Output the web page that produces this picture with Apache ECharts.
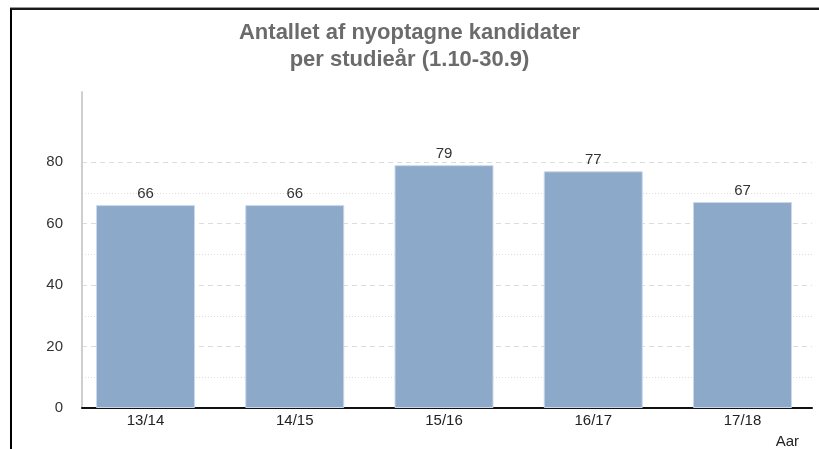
<!DOCTYPE html>
<html>
<head>
<meta charset="utf-8">
<script src="https://cdn.jsdelivr.net/npm/echarts@6/dist/echarts.min.js"></script>
<style>
    html, body { margin: 0; padding: 0; background: #fff; }
    #frame {
        position: absolute; left: 10px; top: 8px; width: 809px; height: 441px;
        border-left: 2px solid #000; border-top: 2px solid #1a1a1a;
        box-shadow: 0 -1px 0 #999;
    }
    #chart { position: absolute; left: 0; top: 0; width: 819px; height: 449px; }
</style>
</head>
<body>
<div id="frame"></div>
<div id="chart"></div>
<script>
var categories = ['13/14', '14/15', '15/16', '16/17', '17/18'];
var values = [66, 66, 79, 77, 67];
var yTicks = [0, 20, 40, 60, 80];

var barData = values.map(function (v, i) { return [i, v]; });
var grey = '#dcdcdc';
var none = 'rgba(0,0,0,0)';

var chart = echarts.init(document.getElementById('chart'));
var option = {
    animation: false,
    title: [
        {
            text: 'Antallet af nyoptagne kandidater\nper studieår (1.10-30.9)',
            left: 'center',
            top: 14,
            textStyle: {
                fontFamily: 'Liberation Sans',
                fontSize: 22,
                fontWeight: 'bold',
                color: '#6b6b6b',
                lineHeight: 27
            }
        },
        {
            text: 'Aar',
            right: 15,
            top: 429,
            textStyle: {
                fontFamily: 'Liberation Sans',
                fontSize: 15,
                fontWeight: 'normal',
                color: '#222'
            }
        }
    ],
    grid: {
        left: 82,
        right: 7,
        top: 92,
        bottom: 41
    },
    xAxis: {
        type: 'value',
        min: -0.4255,
        max: 4.4657,
        axisLine: { show: true, onZero: false, lineStyle: { color: '#111', width: 2 } },
        axisTick: { show: false },
        splitLine: { show: false },
        axisLabel: {
            color: '#222',
            fontFamily: 'Liberation Sans',
            fontSize: 15,
            margin: 5,
            showMinLabel: false,
            showMaxLabel: false,
            formatter: function (v) {
                return Number.isInteger(v) && categories[v] ? categories[v] : '';
            }
        }
    },
    yAxis: [
        {
            type: 'value',
            min: 0,
            max: 102.8,
            interval: 20,
            axisLine: { show: true, onZero: false, lineStyle: { color: '#cfcfcf', width: 2 } },
            axisTick: { show: false },
            axisLabel: {
                color: '#333',
                fontFamily: 'Liberation Sans',
                fontSize: 15,
                margin: 19,
                formatter: function (v) {
                    return yTicks.indexOf(v) >= 0 ? String(v) : '';
                }
            },
            splitLine: {
                show: true,
                showMaxLine: false,
                lineStyle: {
                    type: [5, 4],
                    color: [none, grey, grey, grey, grey, none, none]
                }
            }
        },
        {
            type: 'value',
            min: 0,
            max: 102.8,
            interval: 10,
            position: 'left',
            axisLine: { show: false, onZero: false },
            axisTick: { show: false },
            axisLabel: { show: false },
            splitLine: {
                show: true,
                showMaxLine: false,
                lineStyle: {
                    type: [1, 2],
                    color: [none, grey, none, grey, none, grey, none, grey, none, none, none, none]
                }
            }
        }
    ],
    series: [
        {
            type: 'bar',
            yAxisIndex: 0,
            data: barData,
            barWidth: 99,
            itemStyle: {
                color: '#8ca9c9',
                borderColor: '#c9d8ea',
                borderWidth: 1
            },
            label: {
                show: true,
                position: 'top',
                distance: 4,
                color: '#333',
                fontFamily: 'Liberation Sans',
                fontSize: 15
            }
        }
    ]
};
chart.setOption(option);
window.addEventListener('resize', chart.resize);
</script>
</body>
</html>
